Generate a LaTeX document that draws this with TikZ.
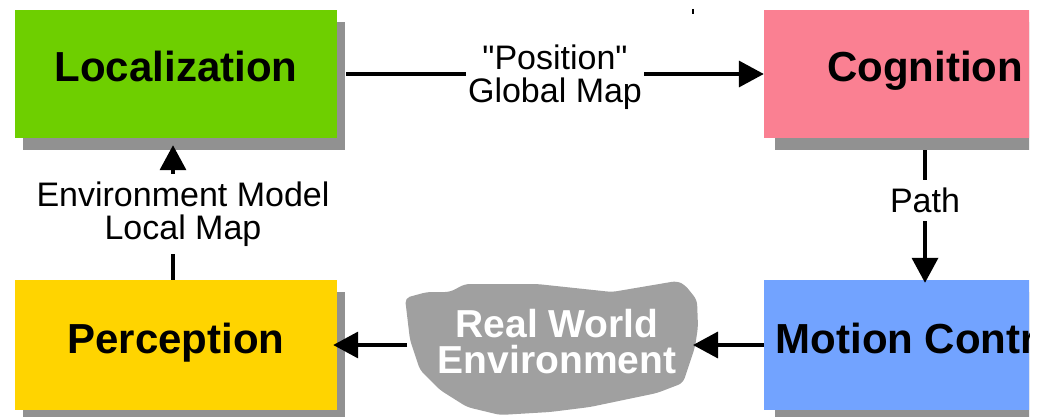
\documentclass[tikz,border=0pt]{standalone}
\usepackage{fontspec}
\setmainfont{Liberation Sans}[Ligatures=TeXOff]
\usetikzlibrary{arrows.meta,shadows}

\definecolor{locgreen}{RGB}{110,207,0}
\definecolor{cogpink}{RGB}{250,128,146}
\definecolor{peryellow}{RGB}{255,212,0}
\definecolor{motblue}{RGB}{114,163,255}
\definecolor{shadowgray}{RGB}{145,145,145}
\definecolor{cloudgray}{RGB}{160,160,160}

\tikzset{
  module/.style={draw=none, minimum width=322pt, inner sep=0pt,
    text height=16pt, text depth=0pt,
    font=\fontsize{42}{42}\selectfont\bfseries},
  leftshadow/.style={drop shadow={shadow xshift=8pt, shadow yshift=-12pt,
    fill=shadowgray, opacity=1}},
  rightshadow/.style={drop shadow={shadow xshift=11pt, shadow yshift=-12pt,
    fill=shadowgray, opacity=1}},
  flow/.style={line width=3.6pt, -{Triangle[length=25pt,width=26pt]}},
  flowlabel/.style={fill=white, inner xsep=2pt, inner ysep=8pt, align=center,
    font=\fontsize{34}{33}\selectfont},
  cloudtext/.style={text=white, align=center,
    font=\fontsize{39}{36}\selectfont\bfseries}
}

\begin{document}
\begin{tikzpicture}[x=1pt, y=1pt]
\useasboundingbox (0,0) rectangle (1041,-417);

% left column
\node[module, leftshadow, fill=locgreen, minimum height=128pt] (loc) at (176,-74) {Localization};
\node[module, leftshadow, fill=peryellow, minimum height=130pt] (per) at (176,-345) {Perception};

% right column, cut off at the right edge
\begin{scope}
  \clip (0,0) rectangle (1029,-417);
  \node[module, rightshadow, fill=cogpink, minimum height=128pt] (cog) at (925,-74) {Cognition};
  \node[module, rightshadow, fill=motblue, minimum height=130pt] (mot) at (925,-345) {Motion Control};
\end{scope}

% real world blob
\fill[cloudgray, rounded corners=5pt]
  (405,-298) -- (427,-292) -- (450,-292) -- (465,-284) -- (537,-284)
  -- (612,-292) -- (677,-281) -- (685,-285) -- (697,-300) -- (698,-327)
  -- (695,-347) -- (683,-383) -- (657,-393) -- (590,-407) -- (550,-412)
  -- (500,-415) -- (467,-407) -- (440,-390) -- (420,-370) -- (410,-340) -- cycle;
\node[cloudtext] (env) at (557,-342) {Real World\\Environment};
\coordinate (envE) at (693,-345);
\coordinate (envW) at (407,-345);

% flows
\draw[flow] ([xshift=9pt]loc.east) -- node[flowlabel, yshift=-3pt] (glob) {"Position"\\Global Map} (cog.west);
\draw[flow] ([yshift=-12pt]cog.south) -- node[flowlabel, pos=0.38] (path) {Path} ([yshift=-3pt]mot.north);
\draw[flow] (mot.west) -- (envE);
\draw[flow] (envW) -- ([xshift=-4pt]per.east);
\draw[flow] ([xshift=-3pt]per.north) -- ([xshift=-3pt,yshift=-7pt]loc.south);
\node[flowlabel] (envmodel) at (183,-214) {Environment Model\\Local Map};

% small stray tick at the top
\coordinate (tickA) at (693,-9);
\coordinate (tickB) at (693,-14);
\draw[line width=2pt] (tickA) -- (tickB);
\end{tikzpicture}
\end{document}
